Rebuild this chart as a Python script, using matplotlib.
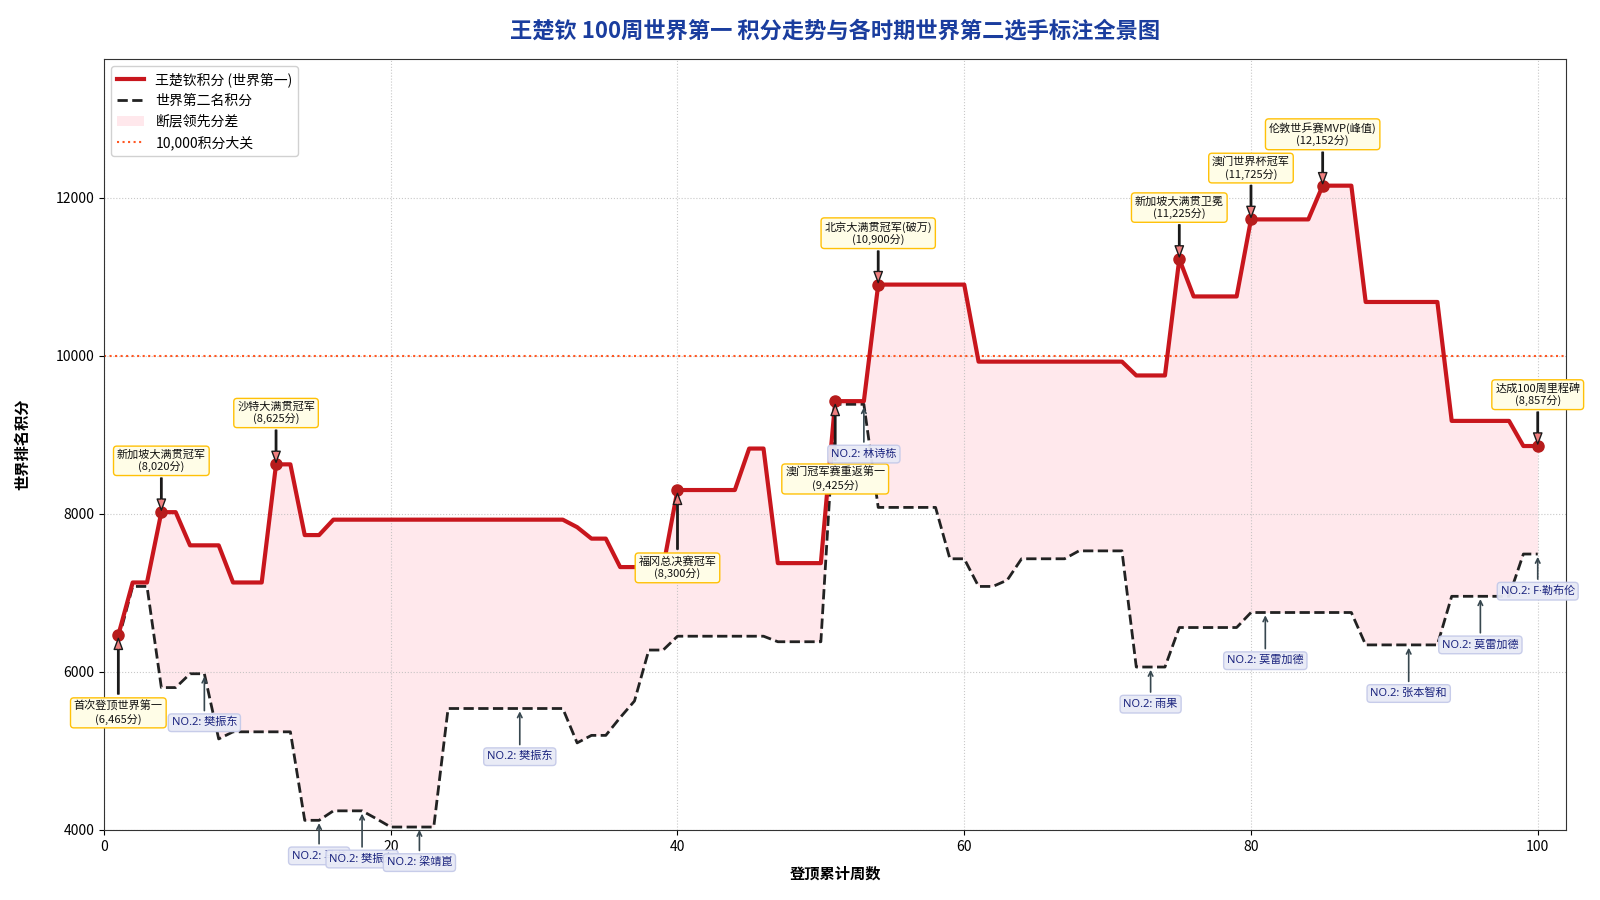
import matplotlib
matplotlib.use('Agg')
import matplotlib.pyplot as plt
from matplotlib.patches import Patch
from matplotlib.lines import Line2D

plt.rcParams['font.family'] = ['Noto Sans CJK SC', 'DejaVu Sans']
plt.rcParams['axes.unicode_minus'] = False

# 数据: 登顶后第 1..100 周
weeks = list(range(1, 101))

wcq_points = [
    6465, 7130, 7130, 8020, 8020, 7600, 7600, 7600, 7130, 7130,
    7130, 8625, 8625, 7730, 7730, 7925, 7925, 7925, 7925, 7925,
    7925, 7925, 7925, 7925, 7925, 7925, 7925, 7925, 7925, 7925,
    7925, 7925, 7830, 7685, 7685, 7325, 7325, 7325, 7325, 8300,
    8300, 8300, 8300, 8300, 8825, 8825, 7375, 7375, 7375, 7375,
    9425, 9425, 9425, 10900, 10900, 10900, 10900, 10900, 10900, 10900,
    9925, 9925, 9925, 9925, 9925, 9925, 9925, 9925, 9925, 9925,
    9925, 9750, 9750, 9750, 11225, 10750, 10750, 10750, 10750, 11725,
    11725, 11725, 11725, 11725, 12152, 12152, 12152, 10680, 10680, 10680,
    10680, 10680, 10680, 9175, 9175, 9175, 9175, 9175, 8857, 8857,
]

no2_points = [
    6400, 7080, 7080, 5800, 5800, 5975, 5975, 5150, 5240, 5240,
    5240, 5240, 5240, 4120, 4120, 4240, 4240, 4240, 4140, 4035,
    4035, 4035, 4035, 5535, 5535, 5535, 5535, 5535, 5535, 5535,
    5535, 5535, 5100, 5195, 5195, 5420, 5630, 6275, 6275, 6450,
    6450, 6450, 6450, 6450, 6450, 6450, 6380, 6380, 6380, 6380,
    9385, 9385, 9385, 8080, 8080, 8080, 8080, 8080, 7430, 7430,
    7080, 7080, 7160, 7430, 7430, 7430, 7430, 7530, 7530, 7530,
    7530, 6060, 6060, 6060, 6560, 6560, 6560, 6560, 6560, 6750,
    6750, 6750, 6750, 6750, 6750, 6750, 6750, 6340, 6340, 6340,
    6340, 6340, 6340, 6955, 6955, 6955, 6955, 6955, 7490, 7490,
]

# 王楚钦里程碑
event_weeks = [1, 4, 12, 40, 51, 54, 75, 80, 85, 100]
event_names = ['首次登顶世界第一', '新加坡大满贯冠军', '沙特大满贯冠军', '福冈总决赛冠军',
               '澳门冠军赛重返第一', '北京大满贯冠军(破万)', '新加坡大满贯卫冕',
               '澳门世界杯冠军', '伦敦世乒赛MVP(峰值)', '达成100周里程碑']

# 世界第二标注
no2_weeks = [7, 15, 18, 22, 29, 53, 73, 81, 91, 96, 100]
no2_names = ['樊振东', '马龙', '樊振东', '梁靖崑', '樊振东', '林诗栋', '雨果',
             '莫雷加德', '张本智和', '莫雷加德', 'F·勒布伦']

# 布局: 文字框位置
event_below = {1, 40, 51}
no2_drop = [620, 450, 610, 450, 610, 630, 470, 610, 615, 615, 470]

RED = '#C8161D'
FILL = '#FFB6C1'
ORANGE = '#FF5722'

fig, ax = plt.subplots(figsize=(16, 9), dpi=100)
fig.subplots_adjust(left=0.065, right=0.979, top=0.934, bottom=0.078)

ax.fill_between(weeks, wcq_points, no2_points, color=FILL, alpha=0.3, lw=0, zorder=1)
ax.plot(weeks, no2_points, color='#222222', lw=2, ls='--', zorder=3)
ax.plot(weeks, wcq_points, color=RED, lw=3, zorder=4)
ax.axhline(10000, color=ORANGE, ls=':', lw=1.5, zorder=2)

ev_vals = [wcq_points[w - 1] for w in event_weeks]
ax.plot(event_weeks, ev_vals, 'o', color='#B71C1C', ms=8, zorder=5)

for w, name, v in zip(event_weeks, event_names, ev_vals):
    dy = -56 if w in event_below else 37
    ax.annotate(f'{name}\n({v:,}分)', xy=(w, v), xytext=(0, dy), textcoords='offset points',
                ha='center', va='center', fontsize=8, color='#111111', linespacing=1.15,
                bbox=dict(boxstyle='round,pad=0.3', fc='#FFFDE7', ec='#FFC107', lw=1),
                arrowprops=dict(facecolor='#F08080', edgecolor='#1a1a1a', width=1, headwidth=6,
                                headlength=8, shrink=0.05),
                zorder=6)

for w, name, drop in zip(no2_weeks, no2_names, no2_drop):
    v = no2_points[w - 1]
    ax.annotate(f'NO.2: {name}', xy=(w, v), xytext=(w, v - drop),
                ha='center', va='center', fontsize=8, color='#1A237E',
                family=['Noto Sans', 'Noto Sans CJK SC', 'DejaVu Sans'],
                bbox=dict(boxstyle='round,pad=0.3', fc='#E8EAF6', ec='#C5CAE9', lw=1, alpha=0.95),
                arrowprops=dict(arrowstyle='->', color='#37474F', lw=1.2),
                annotation_clip=False, zorder=6)

ax.set_xlim(0, 102)
ax.set_ylim(4000, 13750)
ax.set_xticks([0, 20, 40, 60, 80, 100])
ax.set_yticks([4000, 6000, 8000, 10000, 12000])
ax.tick_params(labelsize=10)
ax.grid(True, ls=':', color='#bbbbbb', lw=0.8, alpha=0.8)
for s in ax.spines.values():
    s.set_color('#333333')

ax.set_title('王楚钦 100周世界第一 积分走势与各时期世界第二选手标注全景图',
             fontsize=16, fontweight='bold', color='#1A3D9E', pad=16)
ax.set_xlabel('登顶累计周数', fontsize=11, fontweight='bold', labelpad=9)
ax.set_ylabel('世界排名积分', fontsize=11, fontweight='bold', labelpad=18)

handles = [Line2D([], [], color=RED, lw=3),
           Line2D([], [], color='#222222', lw=2, ls='--'),
           Patch(facecolor=FILL, alpha=0.3, edgecolor='none'),
           Line2D([], [], color=ORANGE, lw=1.5, ls=':')]
labels = ['王楚钦积分 (世界第一)', '世界第二名积分', '断层领先分差', '10,000积分大关']
ax.legend(handles, labels, loc='upper left', fontsize=10, framealpha=0.9)

fig.savefig('out.png', dpi=100)
